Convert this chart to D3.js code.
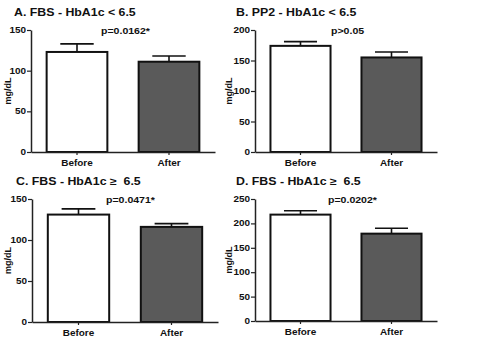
<!DOCTYPE html>
<html>
<head>
<meta charset="utf-8">
<script src="https://cdn.jsdelivr.net/npm/d3@7"></script>
<style>
  html, body { margin: 0; padding: 0; background: #fff; }
  text { font-family: "Liberation Sans", Arial, sans-serif; font-weight: bold; fill: #111; }
</style>
</head>
<body>
<div id="chart"></div>
<script>
const categories = ["Before", "After"];
const titles = ["A. FBS - HbA1c < 6.5", "B. PP2 - HbA1c < 6.5", "C. FBS - HbA1c \u2265  6.5", "D. FBS - HbA1c \u2265  6.5"];
const pLabels = ["p=0.0162*", "p>0.05", "p=0.0471*", "p=0.0202*"];
const meansA = [123, 111];
const meansB = [174, 155];
const meansC = [131, 116];
const meansD = [218, 179];
const errA = [10, 7];
const errB = [7, 9];
const errC = [7, 4];
const errD = [8, 11];
const yMax = [150, 200, 150, 250];
const yTicks = [[0, 50, 100, 150], [0, 50, 100, 150, 200], [0, 50, 100, 150], [0, 50, 100, 150, 200, 250]];
const yLabel = "mg/dL";

const means = [meansA, meansB, meansC, meansD];
const errs = [errA, errB, errC, errD];

// panel frames (pixel layout)
const frames = [
  { x0: 31, x1: 215, top: 30, bot: 152, tx: 14, ty: 16, px: 101, lx: 8 },
  { x0: 255, x1: 437, top: 30, bot: 152, tx: 236, ty: 16, px: 331, lx: 229 },
  { x0: 32, x1: 218, top: 199, bot: 322, tx: 16, ty: 185, px: 106, lx: 8 },
  { x0: 255, x1: 437, top: 199, bot: 321, tx: 236, ty: 185, px: 328, lx: 229 }
];
const fills = ["#ffffff", "#5a5a5a"];
const sx = 1.2; // text is horizontally stretched in the reference

const svg = d3.select("#chart").append("svg")
  .attr("width", 481)
  .attr("height", 338);

function stretchText(g, x, y, str, size, anchor) {
  return g.append("text")
    .attr("transform", `translate(${x},${y}) scale(${sx},1)`)
    .attr("text-anchor", anchor || "start")
    .style("font-size", size + "px")
    .style("white-space", "pre")
    .text(str);
}

frames.forEach((f, i) => {
  const g = svg.append("g");

  const x = d3.scaleBand()
    .domain(categories)
    .range([f.x0, f.x1])
    .paddingInner(0.34)
    .paddingOuter(0.17);

  const y = d3.scaleLinear()
    .domain([0, yMax[i]])
    .range([f.bot, f.top]);

  const data = categories.map((c, j) => ({ cat: c, v: means[i][j], e: errs[i][j], fill: fills[j] }));

  // error bars (upper only)
  const capW = x.bandwidth() * 0.55;
  data.forEach(d => {
    const cx = x(d.cat) + x.bandwidth() / 2;
    g.append("line")
      .attr("x1", cx).attr("x2", cx)
      .attr("y1", y(d.v)).attr("y2", y(d.v + d.e))
      .attr("stroke", "#111").attr("stroke-width", 1.6);
    g.append("line")
      .attr("x1", cx - capW / 2).attr("x2", cx + capW / 2)
      .attr("y1", y(d.v + d.e)).attr("y2", y(d.v + d.e))
      .attr("stroke", "#111").attr("stroke-width", 1.6);
  });

  // bars
  g.selectAll("rect.bar")
    .data(data)
    .join("rect")
    .attr("class", "bar")
    .attr("x", d => x(d.cat))
    .attr("y", d => y(d.v))
    .attr("width", x.bandwidth())
    .attr("height", d => y(0) - y(d.v))
    .attr("fill", d => d.fill)
    .attr("stroke", "#111")
    .attr("stroke-width", 2);

  // y axis
  const ya = g.append("g")
    .attr("transform", `translate(${f.x0},0)`)
    .call(d3.axisLeft(y).tickValues(yTicks[i]).tickSize(4).tickSizeOuter(0).tickPadding(1));
  ya.select(".domain").attr("stroke", "#222").attr("stroke-width", 1.5);
  ya.selectAll(".tick line").attr("stroke", "#222").attr("stroke-width", 1.2);
  ya.selectAll(".tick text").remove();
  yTicks[i].forEach(t => {
    stretchText(g, f.x0 - 5, y(t) + 3, String(t), 8.3, "end");
  });

  // x axis
  const xa = g.append("g")
    .attr("transform", `translate(0,${f.bot})`)
    .call(d3.axisBottom(x).tickSize(3).tickSizeOuter(0));
  xa.select(".domain").attr("stroke", "#222").attr("stroke-width", 1.5);
  xa.selectAll(".tick line").attr("stroke", "#222").attr("stroke-width", 1.2);
  xa.selectAll(".tick text").remove();
  categories.forEach(c => {
    stretchText(g, x(c) + x.bandwidth() / 2, f.bot + 13.5, c, 8.3, "middle");
  });

  // titles, p-values, axis label
  stretchText(g, f.tx, f.ty, titles[i], 10.3);
  stretchText(g, f.px, f.top + 4, pLabels[i], 8.8);
  g.append("text")
    .attr("transform", `translate(${f.lx + 3},${(f.top + f.bot) / 2}) rotate(-90)`)
    .attr("text-anchor", "middle")
    .style("font-size", "9px")
    .text(yLabel);
});
</script>
</body>
</html>
